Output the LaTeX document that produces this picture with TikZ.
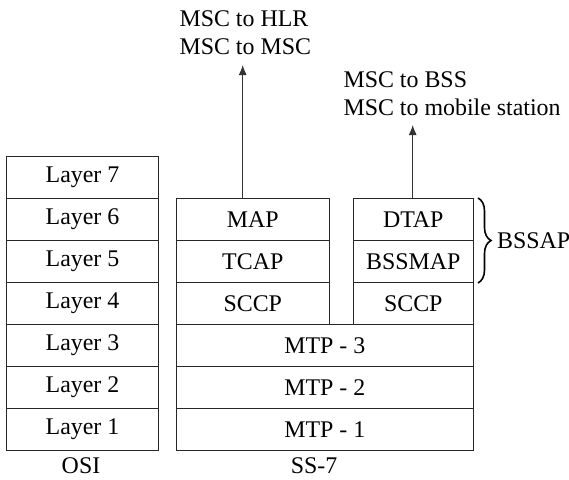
\documentclass[tikz,border=0pt]{standalone}
\usepackage{fontspec}
\setmainfont{Liberation Serif}
\usetikzlibrary{decorations.pathreplacing,arrows.meta}
\begin{document}
\begin{tikzpicture}[x=1pt,y=-1pt,
  every node/.style={font=\fontsize{23.9}{28}\selectfont, text=black},
  layerbox/.style={draw=black!85, line width=1pt, minimum height=42pt, inner sep=0pt, anchor=north west},
  osibox/.style={layerbox, minimum width=152pt},
  leftbox/.style={layerbox, minimum width=152.5pt},
  rightbox/.style={layerbox, minimum width=119.5pt},
  mtpbox/.style={layerbox, minimum width=296.5pt},
  lbl/.style={anchor=base west, inner sep=0pt},
  arr/.style={draw=black!80, line width=1pt, -{Latex[length=10pt,width=8pt]}},
  bracestyle/.style={draw=black, line width=1.6pt, decorate, decoration={brace, amplitude=13pt}}]
\useasboundingbox (0,0) rectangle (569,479);
% OSI
\node[osibox] (l7) at (6,156) {Layer 7};
\node[osibox] (l6) at (6,198) {Layer 6};
\node[osibox] (l5) at (6,240) {Layer 5};
\node[osibox] (l4) at (6,282) {Layer 4};
\node[osibox] (l3) at (6,324) {Layer 3};
\node[osibox] (l2) at (6,366) {Layer 2};
\node[osibox] (l1) at (6,408) {Layer 1};
\node[anchor=base, inner sep=0pt] (osi) at (81,473) {OSI};
% SS-7 left stack
\node[leftbox] (map) at (176,198) {MAP};
\node[leftbox] (tcap) at (176,240) {TCAP};
\node[leftbox] (sccpa) at (176,282) {SCCP};
% SS-7 right stack
\node[rightbox] (dtap) at (353,198) {DTAP};
\node[rightbox] (bssmap) at (353,240) {BSSMAP};
\node[rightbox] (sccpb) at (353,282) {SCCP};
% MTP
\node[mtpbox] (mtp3) at (176,324) {MTP - 3};
\node[mtpbox] (mtp2) at (176,366) {MTP - 2};
\node[mtpbox] (mtp1) at (176,408) {MTP - 1};
\node[anchor=base, inner sep=0pt] (ss7) at (314,473) {SS-7};
% labels
\node[lbl] (hlr) at (179.3,26.7) {MSC to HLR};
\node[lbl] (msc) at (179.3,54) {MSC to MSC};
\node[lbl] (bss) at (343.3,87.7) {MSC to BSS};
\node[lbl] (mob) at (343.3,115) {MSC to mobile station};
\coordinate (tipA) at (242.7,65);
\coordinate (tipB) at (412.7,125);
\draw[arr] (tipA |- map.north) -- (tipA);
\draw[arr] (tipB |- dtap.north) -- (tipB);
% brace
\draw[bracestyle] (478,198) -- (478,283);
\node[lbl] (bssap) at (497,248) {BSSAP};
\end{tikzpicture}
\end{document}
